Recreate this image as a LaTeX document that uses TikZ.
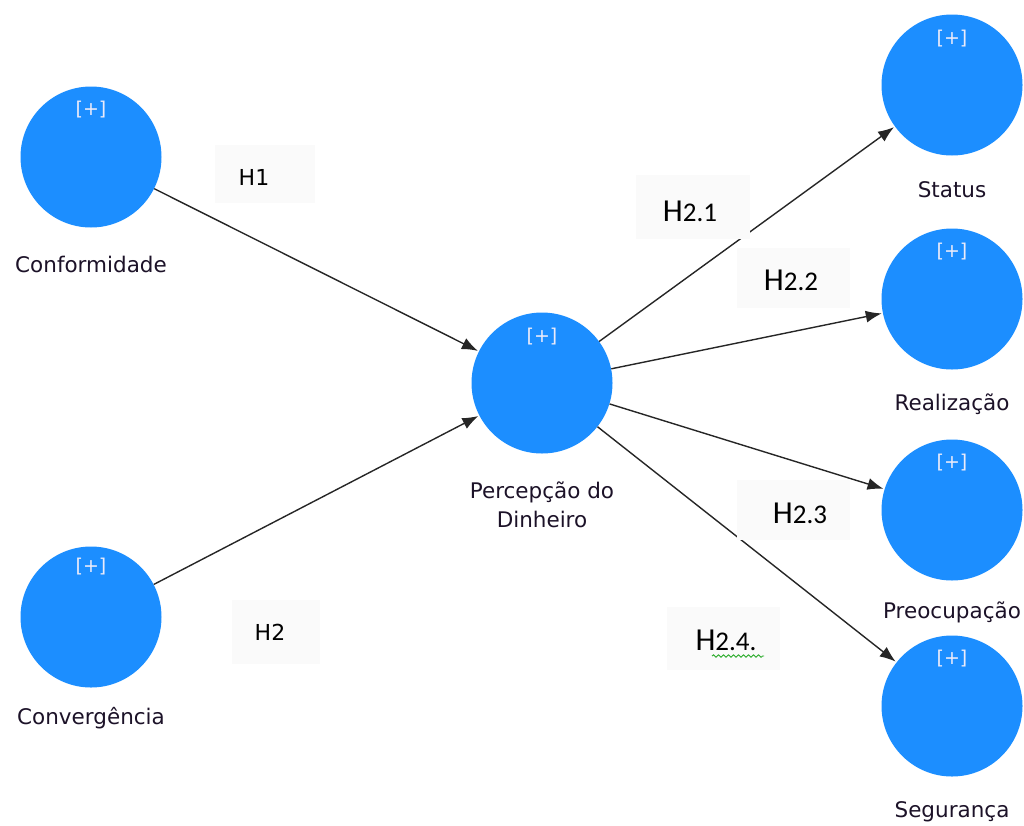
\documentclass[tikz,border=0pt]{standalone}
\usepackage{fontspec}
\setmainfont{DejaVu Sans}
\newfontfamily\calib{Carlito}
\usetikzlibrary{arrows.meta,decorations.pathmorphing}
\definecolor{nodeblue}{RGB}{28,142,255}
\definecolor{txtdark}{RGB}{28,18,40}
\definecolor{plusc}{RGB}{235,235,250}
\definecolor{boxgray}{RGB}{250,250,250}
\definecolor{squig}{RGB}{40,170,40}
\begin{document}
\begin{tikzpicture}[x=1pt,y=-1pt,
  lv/.style={circle,fill=nodeblue,minimum size=141pt,inner sep=0pt},
  plus/.style={text=plusc,font=\fontsize{19}{19}\selectfont},
  lbl/.style={text=txtdark,font=\fontsize{21.5}{29}\selectfont,align=center,inner sep=0pt},
  hbox/.style={fill=boxgray,inner sep=0pt},
  htxt/.style={text=black,inner sep=0pt},
  path/.style={draw=black!85,line width=1.4pt,-{Latex[length=16pt,width=12pt]},shorten >=1pt}
]
\useasboundingbox (0,0) rectangle (1024,825);
% latent variables
\node[lv] (conf) at (91,157) {};
\node[lv] (conv) at (91,617) {};
\node[lv] (perc) at (542,383) {};
\node[lv] (stat) at (952,85) {};
\node[lv] (real) at (952,299) {};
\node[lv] (preo) at (952,510) {};
\node[lv] (segu) at (952,706) {};
% [+] markers
\node[plus] (p1) at (91,110) {[+]};
\node[plus] (p2) at (91,567) {[+]};
\node[plus] (p3) at (542,337) {[+]};
\node[plus] (p4) at (952,39) {[+]};
\node[plus] (p5) at (952,252) {[+]};
\node[plus] (p6) at (952,463) {[+]};
\node[plus] (p7) at (952,659) {[+]};
% names
\node[lbl] (lconf) at (91,264) {Conformidade};
\node[lbl] (lconv) at (91,718) {Convergência};
\node[lbl] (lperc) at (542,505) {Percepção do\\Dinheiro};
\node[lbl] (lstat) at (952,190) {Status};
\node[lbl] (lreal) at (952,404) {Realização};
\node[lbl] (lpreo) at (952,612) {Preocupação};
\node[lbl] (lsegu) at (952,812) {Segurança};
% paths
\draw[path] (conf) -- (perc);
\draw[path] (conv) -- (perc);
\draw[path] (perc) -- (stat);
\draw[path] (perc) -- (real);
\draw[path] (perc) -- (preo);
\draw[path] (perc) -- (segu);
% hypothesis boxes
\node[hbox,minimum width=100pt,minimum height=58pt] (b1) at (265,174) {};
\node[htxt,font=\fontsize{22}{22}\selectfont] (h1) at (254,177) {H1};
\node[hbox,minimum width=88pt,minimum height=64pt] (b2) at (276,632) {};
\node[htxt,font=\fontsize{22}{22}\selectfont] (h2) at (270,632) {H2};
\node[hbox,minimum width=114pt,minimum height=64pt] (b21) at (693,207) {};
\node[htxt] (h21) at (690,211) {\calib\fontsize{32}{32}\selectfont H\fontsize{27}{27}\selectfont 2.1};
\node[hbox,minimum width=113pt,minimum height=60pt] (b22) at (793,278) {};
\node[htxt] (h22) at (791,280) {\calib\fontsize{32}{32}\selectfont H\fontsize{27}{27}\selectfont 2.2};
\node[hbox,minimum width=113pt,minimum height=60pt] (b23) at (793,510) {};
\node[htxt] (h23) at (800,513) {\calib\fontsize{32}{32}\selectfont H\fontsize{27}{27}\selectfont 2.3};
\node[hbox,minimum width=113pt,minimum height=63pt] (b24) at (723,638) {};
\node[htxt] (h24) at (726,640) {\calib\fontsize{32}{32}\selectfont H\fontsize{27}{27}\selectfont 2.4.};
\coordinate (sq1) at (712,656);
\coordinate (sq2) at (764,656);
\draw[squig,line width=0.9pt,decorate,decoration={snake,amplitude=1.2pt,segment length=5pt}] (sq1) -- (sq2);
\end{tikzpicture}
\end{document}
